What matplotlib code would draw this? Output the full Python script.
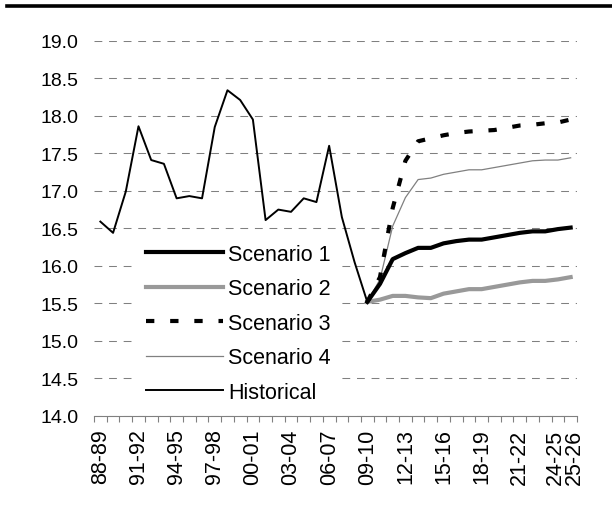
import matplotlib
matplotlib.use("Agg")
import matplotlib.pyplot as plt
import matplotlib.transforms as mtransforms
from matplotlib.lines import Line2D
import numpy as np

# 数据：财政年度与各情景数值
periods = ["88-89", "89-90", "90-91", "91-92", "92-93", "93-94", "94-95", "95-96",
           "96-97", "97-98", "98-99", "99-00", "00-01", "01-02", "02-03", "03-04",
           "04-05", "05-06", "06-07", "07-08", "08-09", "09-10", "10-11", "11-12",
           "12-13", "13-14", "14-15", "15-16", "16-17", "17-18", "18-19", "19-20",
           "20-21", "21-22", "22-23", "23-24", "24-25", "25-26"]
shown_labels = ["88-89", "91-92", "94-95", "97-98", "00-01", "03-04", "06-07", "09-10",
                "12-13", "15-16", "18-19", "21-22", "24-25", "25-26"]

historical = [16.59, 16.44, 16.99, 17.86, 17.41, 17.36, 16.90, 16.93, 16.90, 17.85, 18.34,
              18.21, 17.95, 16.61, 16.75, 16.72, 16.90, 16.85, 17.60, 16.65, 16.05, 15.52]
scenario1 = [15.52, 15.76, 16.09, 16.17, 16.24, 16.24, 16.30, 16.33, 16.35, 16.35, 16.38,
             16.41, 16.44, 16.46, 16.46, 16.49, 16.51]
scenario2 = [15.52, 15.55, 15.60, 15.60, 15.58, 15.57, 15.63, 15.66, 15.69, 15.69, 15.72,
             15.75, 15.78, 15.80, 15.80, 15.82, 15.85]
scenario3 = [15.52, 15.85, 16.77, 17.40, 17.66, 17.70, 17.74, 17.77, 17.79, 17.80, 17.81,
             17.84, 17.87, 17.88, 17.90, 17.91, 17.95]
scenario4 = [15.52, 15.82, 16.53, 16.91, 17.15, 17.17, 17.22, 17.25, 17.28, 17.28, 17.31,
             17.34, 17.37, 17.40, 17.41, 17.41, 17.44]

plt.rcParams["font.family"] = ["Liberation Sans", "DejaVu Sans"]
plt.rcParams["font.size"] = 14

fig = plt.figure(figsize=(6.12, 5.06), dpi=100)
ax = fig.add_axes([94 / 612, 1 - 417 / 506, (577 - 94) / 612, (417 - 41.7) / 506])

x_all = np.arange(len(periods))
x_hist = x_all[:len(historical)]
x_scen = x_all[len(historical) - 1:]

ax.plot(x_scen, scenario4, color="#808080", lw=0.9, label="Scenario 4", zorder=3)
ax.plot(x_scen, scenario2, color="#999999", lw=3.0, label="Scenario 2", zorder=3)
ax.plot(x_scen, scenario3, color="black", lw=3.0, dashes=(2, 3.8),
        dash_capstyle="butt", label="Scenario 3", zorder=4)
ax.plot(x_scen, scenario1, color="black", lw=3.0, label="Scenario 1", zorder=5)
ax.plot(x_hist, historical, color="black", lw=1.4, label="Historical", zorder=5)

ax.set_ylim(14.0, 19.0)
ax.set_xlim(-0.5, len(periods) - 0.5)
ax.set_yticks(np.arange(14.0, 19.01, 0.5))
ax.set_yticklabels([f"{v:.1f}" for v in np.arange(14.0, 19.01, 0.5)])
ax.tick_params(axis="y", length=0, pad=11)

# 横轴：刻度在类别之间，标签在类别中心
ax.set_xticks(np.arange(-0.5, len(periods), 1.0))
ax.set_xticklabels([])
ax.tick_params(axis="x", which="major", length=4, color="#808080", width=0.8, direction="out")
label_pos = [periods.index(p) for p in shown_labels]
ax.set_xticks(label_pos, minor=True)
ax.set_xticklabels(shown_labels, minor=True, rotation=90, fontsize=15.5)
ax.tick_params(axis="x", which="minor", length=0, pad=9)

# 最后两个标签稍微分开
minor_labels = ax.get_xticklabels(minor=True)
minor_labels[-2].set_transform(minor_labels[-2].get_transform() +
                               mtransforms.ScaledTranslation(-3 / 100, 0, fig.dpi_scale_trans))
minor_labels[-1].set_transform(minor_labels[-1].get_transform() +
                               mtransforms.ScaledTranslation(4 / 100, 0, fig.dpi_scale_trans))

for s in ["top", "right", "left"]:
    ax.spines[s].set_visible(False)
ax.spines["bottom"].set_color("#808080")
ax.spines["bottom"].set_linewidth(0.8)

ax.yaxis.grid(True, color="#808080", lw=0.75, linestyle=(0, (7.5, 6.5)))
ax.set_axisbelow(True)

handles, labels = ax.get_legend_handles_labels()
order = ["Scenario 1", "Scenario 2", "Scenario 3", "Scenario 4", "Historical"]
hmap = dict(zip(labels, handles))
leg = ax.legend([hmap[k] for k in order], order, loc="upper left",
                bbox_to_anchor=(0.089, 0.482), frameon=True, facecolor="white",
                edgecolor="none", framealpha=1, fancybox=False, borderpad=0.4,
                borderaxespad=0, handlelength=3.6, handletextpad=0.25,
                labelspacing=0.63, fontsize=15.5)
leg.set_zorder(10)

# 顶部粗黑线
fig.add_artist(Line2D([7 / 612, 1.0], [1 - 6.5 / 506, 1 - 6.5 / 506],
                      color="black", lw=2.6, transform=fig.transFigure))

plt.savefig("out.png", dpi=100)
